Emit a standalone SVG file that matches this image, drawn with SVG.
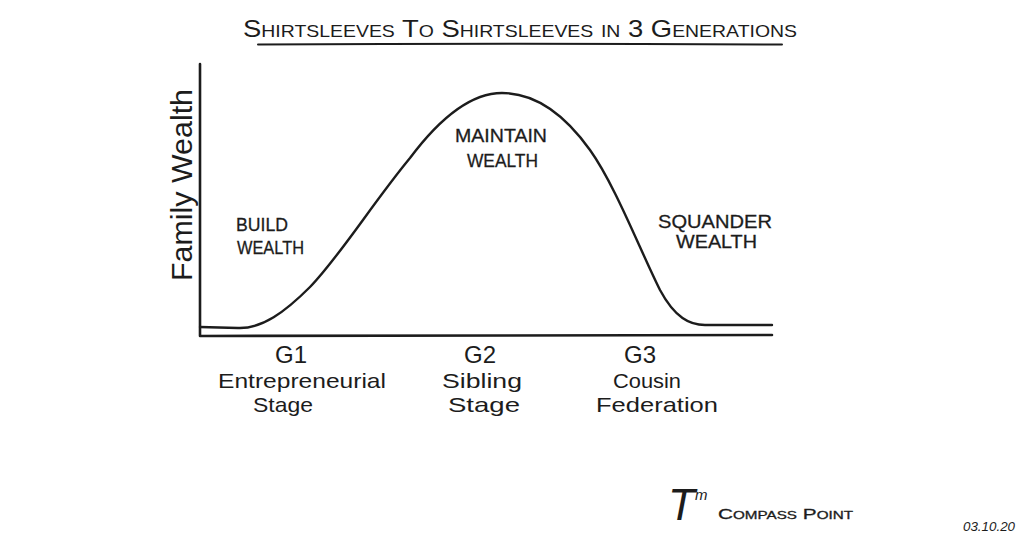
<svg xmlns="http://www.w3.org/2000/svg" width="1024" height="538" viewBox="0 0 1024 538">
  <style>
    .ink { stroke: #1c1c1c; fill: none; stroke-linecap: round; stroke-linejoin: round; }
    .lbl { font-family: "Liberation Sans", Arial, sans-serif; fill: #1c1c1c; }
    .caps { font-size: 19px; stroke: #1c1c1c; stroke-width: 0.3px; }
    .gen { font-size: 21px; text-anchor: middle; }
    .gnum { font-size: 24px; }
  </style>
  <rect width="1024" height="538" fill="#ffffff"/>

  <g id="title">
    <text class="lbl" x="243" y="37" font-size="24" style="font-variant: small-caps" textLength="554" lengthAdjust="spacingAndGlyphs">Shirtsleeves To Shirtsleeves in 3 Generations</text>
    <path class="ink" d="M258,44.5 Q520,43 782,44.5" stroke-width="2"/>
  </g>

  <g id="axes">
    <path class="ink" d="M200,64 L200,336 L772,335" stroke-width="2.6"/>
  </g>

  <g id="axis-label">
    <text class="lbl" transform="translate(192,185) rotate(-90)" font-size="29" text-anchor="middle" textLength="192" lengthAdjust="spacingAndGlyphs">Family Wealth</text>
  </g>

  <g id="wealth-curve">
    <path class="ink" stroke-width="2.4" d="M200,327 L238,328 C262,329 285,312 310,287 C340,256 372,204 410,158 C440,118 470,93 502,93 C535,93 565,115 590,150 C615,185 640,250 660,290 C675,318 690,325 705,325 L772,325"/>
  </g>

  <g id="label-build">
    <text class="lbl caps" x="236" y="231" textLength="52" lengthAdjust="spacingAndGlyphs">BUILD</text>
    <text class="lbl caps" x="237" y="254" textLength="67" lengthAdjust="spacingAndGlyphs">WEALTH</text>
  </g>

  <g id="label-maintain">
    <text class="lbl caps" x="455" y="142" textLength="92" lengthAdjust="spacingAndGlyphs">MAINTAIN</text>
    <text class="lbl caps" x="467" y="167" textLength="71" lengthAdjust="spacingAndGlyphs">WEALTH</text>
  </g>

  <g id="label-squander">
    <text class="lbl caps" x="658" y="228" textLength="114" lengthAdjust="spacingAndGlyphs">SQUANDER</text>
    <text class="lbl caps" x="676" y="248" textLength="81" lengthAdjust="spacingAndGlyphs">WEALTH</text>
  </g>

  <g id="g1">
    <text class="lbl gen gnum" x="291" y="363">G1</text>
    <text class="lbl gen" x="302" y="388" textLength="168" lengthAdjust="spacingAndGlyphs">Entrepreneurial</text>
    <text class="lbl gen" x="283" y="412" textLength="60" lengthAdjust="spacingAndGlyphs">Stage</text>
  </g>

  <g id="g2">
    <text class="lbl gen gnum" x="480" y="363">G2</text>
    <text class="lbl gen" x="482" y="388" textLength="80" lengthAdjust="spacingAndGlyphs">Sibling</text>
    <text class="lbl gen" x="484" y="412" textLength="72" lengthAdjust="spacingAndGlyphs">Stage</text>
  </g>

  <g id="g3">
    <text class="lbl gen gnum" x="640" y="363">G3</text>
    <text class="lbl gen" x="647" y="388" textLength="68" lengthAdjust="spacingAndGlyphs">Cousin</text>
    <text class="lbl gen" x="657" y="412" textLength="122" lengthAdjust="spacingAndGlyphs">Federation</text>
  </g>

  <g id="signature">
    <text class="lbl" x="668" y="520" font-size="44" font-style="italic">T<tspan font-size="15" dy="-20">m</tspan></text>
    <text class="lbl" x="718" y="519" font-size="15" style="font-variant: small-caps" stroke="#1c1c1c" stroke-width="0.3" textLength="135" lengthAdjust="spacingAndGlyphs">Compass Point</text>
  </g>

  <g id="date">
    <text class="lbl" x="963" y="531" font-size="12" font-style="italic" textLength="52" lengthAdjust="spacingAndGlyphs">03.10.20</text>
  </g>
</svg>
